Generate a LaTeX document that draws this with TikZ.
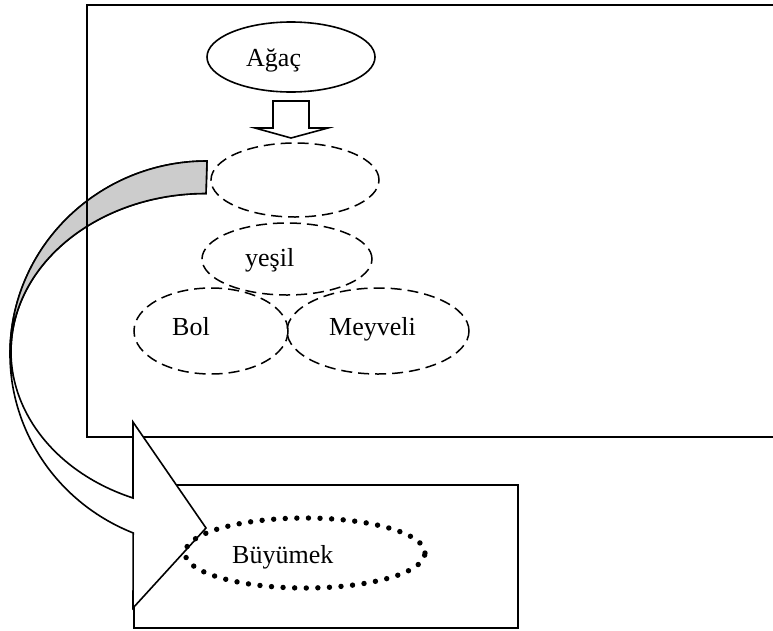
\documentclass[tikz,border=0pt]{standalone}
\usepackage{fontspec}
\setmainfont{Liberation Serif}
\usetikzlibrary{shapes.geometric}
\begin{document}
\begin{tikzpicture}[x=1pt,y=1pt,
  outline/.style={line width=1.6pt, line join=miter},
  oval/.style={ellipse, draw, line width=1.6pt, inner sep=0pt},
  dashoval/.style={oval, line width=1.5pt, dash pattern=on 11pt off 6pt},
  dotoval/.style={ellipse, draw, inner sep=0pt, line width=5.4pt, line cap=round, dash pattern=on 0pt off 11.6pt},
  lbl/.style={inner sep=0pt, anchor=base west, font=\fontsize{26}{31}\selectfont},
  bandgray/.style={fill=black!20}]
\useasboundingbox (0,0) rectangle (773,-630);

% lower frame
\draw[outline] (134,-485) rectangle (518,-628);
% upper frame, open to the right
\draw[outline] (780,-5) -- (87,-5) -- (87,-437) -- (780,-437);

% curved block arrow: white band ending in the head, shaded back face above
\filldraw[outline, fill=white] (207,-161)
  arc[start angle=90, end angle=248, x radius=197, y radius=193]
  -- (133,-608) -- (206,-528) -- (133,-422) -- (133,-498)
  arc[start angle=248, end angle=90, x radius=195, y radius=158]
  -- cycle;
\filldraw[outline, bandgray] (207,-161)
  arc[start angle=90, end angle=180, x radius=197, y radius=193]
  -- (11,-351.5)
  arc[start angle=180, end angle=90, x radius=195, y radius=158]
  -- cycle;
% frame side passes over the shaded band
\draw[outline] (87,-5) -- (87,-437);

% ovals
\node[oval, minimum width=168, minimum height=70] (agac) at (291,-57) {};
\node[dashoval, minimum width=168, minimum height=74] (bos) at (295,-180) {};
\node[dashoval, minimum width=170, minimum height=72] (yesil) at (287,-259) {};
\node[dashoval, minimum width=154, minimum height=86] (bol) at (211,-331) {};
\node[dashoval, minimum width=182, minimum height=86] (meyveli) at (378,-331) {};
\node[dotoval, minimum width=240, minimum height=70] (buyumek) at (305,-553) {};

% labels
\node[lbl] (agac-t) at (246,-66) {Ağaç};
\node[lbl] (yesil-t) at (245,-266) {yeşil};
\node[lbl] (bol-t) at (172,-335) {Bol};
\node[lbl] (meyveli-t) at (329,-335) {Meyveli};
\node[lbl] (buyumek-t) at (232,-563) {Büyümek};

% block arrow pointing down from the top oval
\draw[outline, fill=white] (273,-101) -- (309,-101) -- (309,-128) -- (328,-128)
  -- (291,-138) -- (255,-128) -- (273,-128) -- cycle;
\end{tikzpicture}
\end{document}
